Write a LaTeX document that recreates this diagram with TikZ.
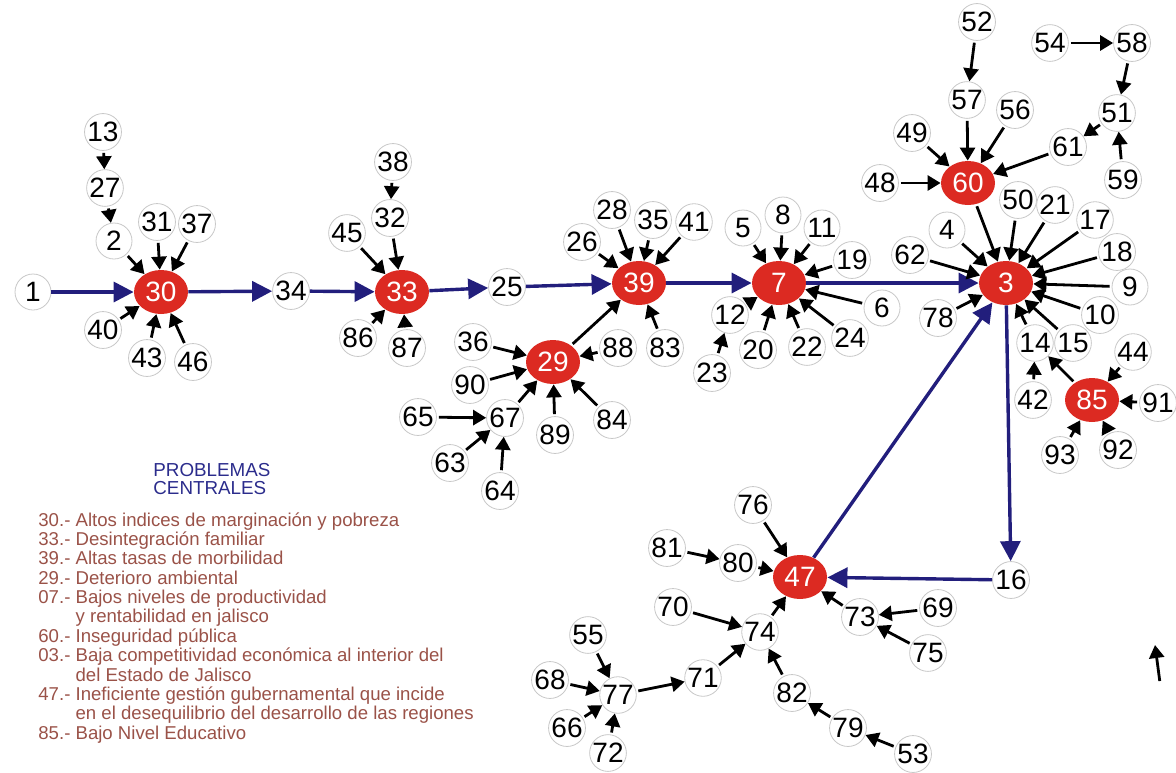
\documentclass[tikz,border=0pt]{standalone}
\usepackage{fontspec}
\setmainfont{Liberation Sans}
\usepackage{xcolor}
\usepackage{tikz}
\usetikzlibrary{arrows.meta,shapes.geometric}
\definecolor{ArbolRed}{HTML}{DC2A22}
\definecolor{ArbolNavy}{HTML}{221E7C}
\definecolor{ArbolBrown}{HTML}{9A5248}
\definecolor{ArbolGray}{HTML}{C8C8C8}
\definecolor{ArbolTitle}{HTML}{2B2C8C}
\tikzset{
  cause/.style={circle, draw=ArbolGray, fill=white, line width=0.4pt,
                minimum size=18pt, inner sep=0pt},
  core/.style={ellipse, fill=ArbolRed, text=white, minimum width=27pt,
               minimum height=22pt, inner sep=0pt},
  flow/.style={-{Triangle[length=6.5pt,width=7.5pt]}, line width=1.4pt,
               shorten <=1pt},
  mainflow/.style={-{Triangle[length=10pt,width=10pt]}, line width=1.7pt,
                   draw=ArbolNavy, fill=ArbolNavy}
}
\begin{document}
\begin{tikzpicture}[x=0.5pt, y=-0.5pt, font=\fontsize{14}{14}\selectfont]
  \useasboundingbox (0,0) rectangle (1176,772);
  % problemas centrales
  \node[core] (n30) at (161,292) {30};
  \node[core] (n33) at (402,292) {33};
  \node[core] (n39) at (639,283) {39};
  \node[core] (n29) at (553,362) {29};
  \node[core] (n7)  at (779,283) {7};
  \node[core] (n3)  at (1006,283) {3};
  \node[core] (n60) at (968,183) {60};
  \node[core] (n85) at (1092,400) {85};
  \node[core] (n47) at (800,577) {47};
  % cadena principal
  \node[cause] (n1)  at (33,292) {1};
  \node[cause] (n34) at (291,291) {34};
  \node[cause] (n25) at (507,287) {25};
  \node[cause] (n16) at (1011,580) {16};
  % causas de 30
  \node[cause] (n13) at (103,132) {13};
  \node[cause] (n27) at (105,188) {27};
  \node[cause] (n2)  at (114,241) {2};
  \node[cause] (n31) at (157,222) {31};
  \node[cause] (n37) at (197,224) {37};
  \node[cause] (n40) at (103,330) {40};
  \node[cause] (n43) at (147,358) {43};
  \node[cause] (n46) at (193,362) {46};
  % causas de 33
  \node[cause] (n38) at (393,162) {38};
  \node[cause] (n32) at (390,218) {32};
  \node[cause] (n45) at (347,233) {45};
  \node[cause] (n86) at (358,338) {86};
  \node[cause] (n87) at (407,348) {87};
  % causas de 39 y 29
  \node[cause] (n26) at (582,242) {26};
  \node[cause] (n28) at (612,210) {28};
  \node[cause] (n35) at (653,220) {35};
  \node[cause] (n41) at (694,222) {41};
  \node[cause] (n83) at (665,348) {83};
  \node[cause] (n36) at (473,342) {36};
  \node[cause] (n90) at (470,385) {90};
  \node[cause] (n88) at (618,348) {88};
  \node[cause] (n84) at (612,420) {84};
  \node[cause] (n89) at (555,435) {89};
  \node[cause] (n67) at (505,418) {67};
  \node[cause] (n65) at (418,417) {65};
  \node[cause] (n63) at (450,463) {63};
  \node[cause] (n64) at (500,491) {64};
  % causas de 7
  \node[cause] (n5)  at (743,228) {5};
  \node[cause] (n8)  at (783,215) {8};
  \node[cause] (n11) at (822,228) {11};
  \node[cause] (n19) at (852,260) {19};
  \node[cause] (n6)  at (882,308) {6};
  \node[cause] (n24) at (850,338) {24};
  \node[cause] (n22) at (807,347) {22};
  \node[cause] (n20) at (758,350) {20};
  \node[cause] (n12) at (730,315) {12};
  \node[cause] (n23) at (712,373) {23};
  % causas de 3
  \node[cause] (n62) at (910,255) {62};
  \node[cause] (n4)  at (947,230) {4};
  \node[cause] (n78) at (938,318) {78};
  \node[cause] (n50) at (1018,200) {50};
  \node[cause] (n21) at (1055,205) {21};
  \node[cause] (n17) at (1095,220) {17};
  \node[cause] (n18) at (1117,252) {18};
  \node[cause] (n9)  at (1130,287) {9};
  \node[cause] (n10) at (1100,315) {10};
  \node[cause] (n15) at (1073,343) {15};
  \node[cause] (n14) at (1035,343) {14};
  \node[cause] (n42) at (1033,400) {42};
  % causas de 60
  \node[cause] (n52) at (977,22) {52};
  \node[cause] (n57) at (967,100) {57};
  \node[cause] (n56) at (1015,110) {56};
  \node[cause] (n49) at (912,133) {49};
  \node[cause] (n48) at (880,183) {48};
  \node[cause] (n54) at (1050,43) {54};
  \node[cause] (n58) at (1132,43) {58};
  \node[cause] (n51) at (1117,113) {51};
  \node[cause] (n61) at (1068,147) {61};
  \node[cause] (n59) at (1123,180) {59};
  % causas de 85
  \node[cause] (n44) at (1133,352) {44};
  \node[cause] (n91) at (1158,403) {91};
  \node[cause] (n92) at (1118,450) {92};
  \node[cause] (n93) at (1060,455) {93};
  % causas de 47
  \node[cause] (n76) at (753,505) {76};
  \node[cause] (n81) at (667,548) {81};
  \node[cause] (n80) at (738,563) {80};
  \node[cause] (n70) at (673,607) {70};
  \node[cause] (n74) at (760,632) {74};
  \node[cause] (n73) at (860,617) {73};
  \node[cause] (n69) at (938,608) {69};
  \node[cause] (n75) at (928,653) {75};
  \node[cause] (n55) at (588,635) {55};
  \node[cause] (n68) at (550,680) {68};
  \node[cause] (n77) at (618,695) {77};
  \node[cause] (n71) at (703,678) {71};
  \node[cause] (n66) at (567,728) {66};
  \node[cause] (n72) at (608,753) {72};
  \node[cause] (n82) at (792,693) {82};
  \node[cause] (n79) at (848,728) {79};
  \node[cause] (n53) at (913,754) {53};
  \coordinate (strayA) at (1160,683);
  \coordinate (strayB) at (1155,645);

  % leyenda
  \node[anchor=north west, inner sep=0pt, align=left, text=ArbolTitle,
        font=\fontsize{9.4}{9}\selectfont] (legtitle) at (153,463)
    {PROBLEMAS\\CENTRALES};
  \node[anchor=north west, inner sep=0pt, text=ArbolBrown,
        font=\fontsize{9.3}{9.65}\selectfont] (legend) at (38,512) {%
    \begin{tabular}{@{}l@{ }l@{}}
    30.- & Altos indices de marginación y pobreza\\
    33.- & Desintegración familiar\\
    39.- & Altas tasas de morbilidad\\
    29.- & Deterioro ambiental\\
    07.- & Bajos niveles de productividad\\
         & y rentabilidad en jalisco\\
    60.- & Inseguridad pública\\
    03.- & Baja competitividad económica al interior del\\
         & del Estado de Jalisco\\
    47.- & Ineficiente gestión gubernamental que incide\\
         & en el desequilibrio del desarrollo de las regiones\\
    85.- & Bajo Nivel Educativo
    \end{tabular}};

  % flechas principales
  \draw[mainflow] (n1) -- (n30);
  \draw[mainflow] (n30) -- (n34);
  \draw[mainflow] (n34) -- (n33);
  \draw[mainflow] (n33) -- (n25);
  \draw[mainflow] (n25) -- (n39);
  \draw[mainflow] (n39) -- (n7);
  \draw[mainflow] (n7) -- (n3);
  \draw[mainflow] (n3) -- (n16);
  \draw[mainflow] (n16) -- (n47);
  \draw[mainflow] (n47) -- (n3);

  % flechas de causas
  \draw[flow] (n13) -- (n27);
  \draw[flow] (n27) -- (n2);
  \draw[flow] (n2) -- (n30);
  \draw[flow] (n31) -- (n30);
  \draw[flow] (n37) -- (n30);
  \draw[flow] (n40) -- (n30);
  \draw[flow] (n43) -- (n30);
  \draw[flow] (n46) -- (n30);
  \draw[flow] (n38) -- (n32);
  \draw[flow] (n32) -- (n33);
  \draw[flow] (n45) -- (n33);
  \draw[flow] (n86) -- (n33);
  \draw[flow] (n87) -- (n33);
  \draw[flow] (n26) -- (n39);
  \draw[flow] (n28) -- (n39);
  \draw[flow] (n35) -- (n39);
  \draw[flow] (n41) -- (n39);
  \draw[flow] (n83) -- (n39);
  \draw[flow] (n29) -- (n39);
  \draw[flow] (n36) -- (n29);
  \draw[flow] (n90) -- (n29);
  \draw[flow] (n67) -- (n29);
  \draw[flow] (n89) -- (n29);
  \draw[flow] (n84) -- (n29);
  \draw[flow] (n88) -- (n29);
  \draw[flow] (n65) -- (n67);
  \draw[flow] (n63) -- (n67);
  \draw[flow] (n64) -- (n67);
  \draw[flow] (n5) -- (n7);
  \draw[flow] (n8) -- (n7);
  \draw[flow] (n11) -- (n7);
  \draw[flow] (n19) -- (n7);
  \draw[flow] (n6) -- (n7);
  \draw[flow] (n24) -- (n7);
  \draw[flow] (n22) -- (n7);
  \draw[flow] (n20) -- (n7);
  \draw[flow] (n12) -- (n7);
  \draw[flow] (n23) -- (n12);
  \draw[flow] (n60) -- (n3);
  \draw[flow] (n4) -- (n3);
  \draw[flow] (n62) -- (n3);
  \draw[flow] (n78) -- (n3);
  \draw[flow] (n50) -- (n3);
  \draw[flow] (n21) -- (n3);
  \draw[flow] (n17) -- (n3);
  \draw[flow] (n18) -- (n3);
  \draw[flow] (n9) -- (n3);
  \draw[flow] (n10) -- (n3);
  \draw[flow] (n15) -- (n3);
  \draw[flow] (n14) -- (n3);
  \draw[flow] (n42) -- (n14);
  \draw[flow] (n85) -- (n14);
  \draw[flow] (n52) -- (n57);
  \draw[flow] (n57) -- (n60);
  \draw[flow] (n56) -- (n60);
  \draw[flow] (n49) -- (n60);
  \draw[flow] (n48) -- (n60);
  \draw[flow] (n61) -- (n60);
  \draw[flow] (n51) -- (n61);
  \draw[flow] (n54) -- (n58);
  \draw[flow] (n58) -- (n51);
  \draw[flow] (n59) -- (n51);
  \draw[flow] (n44) -- (n85);
  \draw[flow] (n91) -- (n85);
  \draw[flow] (n92) -- (n85);
  \draw[flow] (n93) -- (n85);
  \draw[flow] (n76) -- (n47);
  \draw[flow] (n81) -- (n80);
  \draw[flow] (n80) -- (n47);
  \draw[flow] (n74) -- (n47);
  \draw[flow] (n73) -- (n47);
  \draw[flow] (n69) -- (n73);
  \draw[flow] (n75) -- (n73);
  \draw[flow] (n70) -- (n74);
  \draw[flow] (n71) -- (n74);
  \draw[flow] (n82) -- (n74);
  \draw[flow] (n79) -- (n82);
  \draw[flow] (n53) -- (n79);
  \draw[flow] (n77) -- (n71);
  \draw[flow] (n55) -- (n77);
  \draw[flow] (n68) -- (n77);
  \draw[flow] (n66) -- (n77);
  \draw[flow] (n72) -- (n77);
  \draw[flow] (strayA) -- (strayB);
\end{tikzpicture}
\end{document}
